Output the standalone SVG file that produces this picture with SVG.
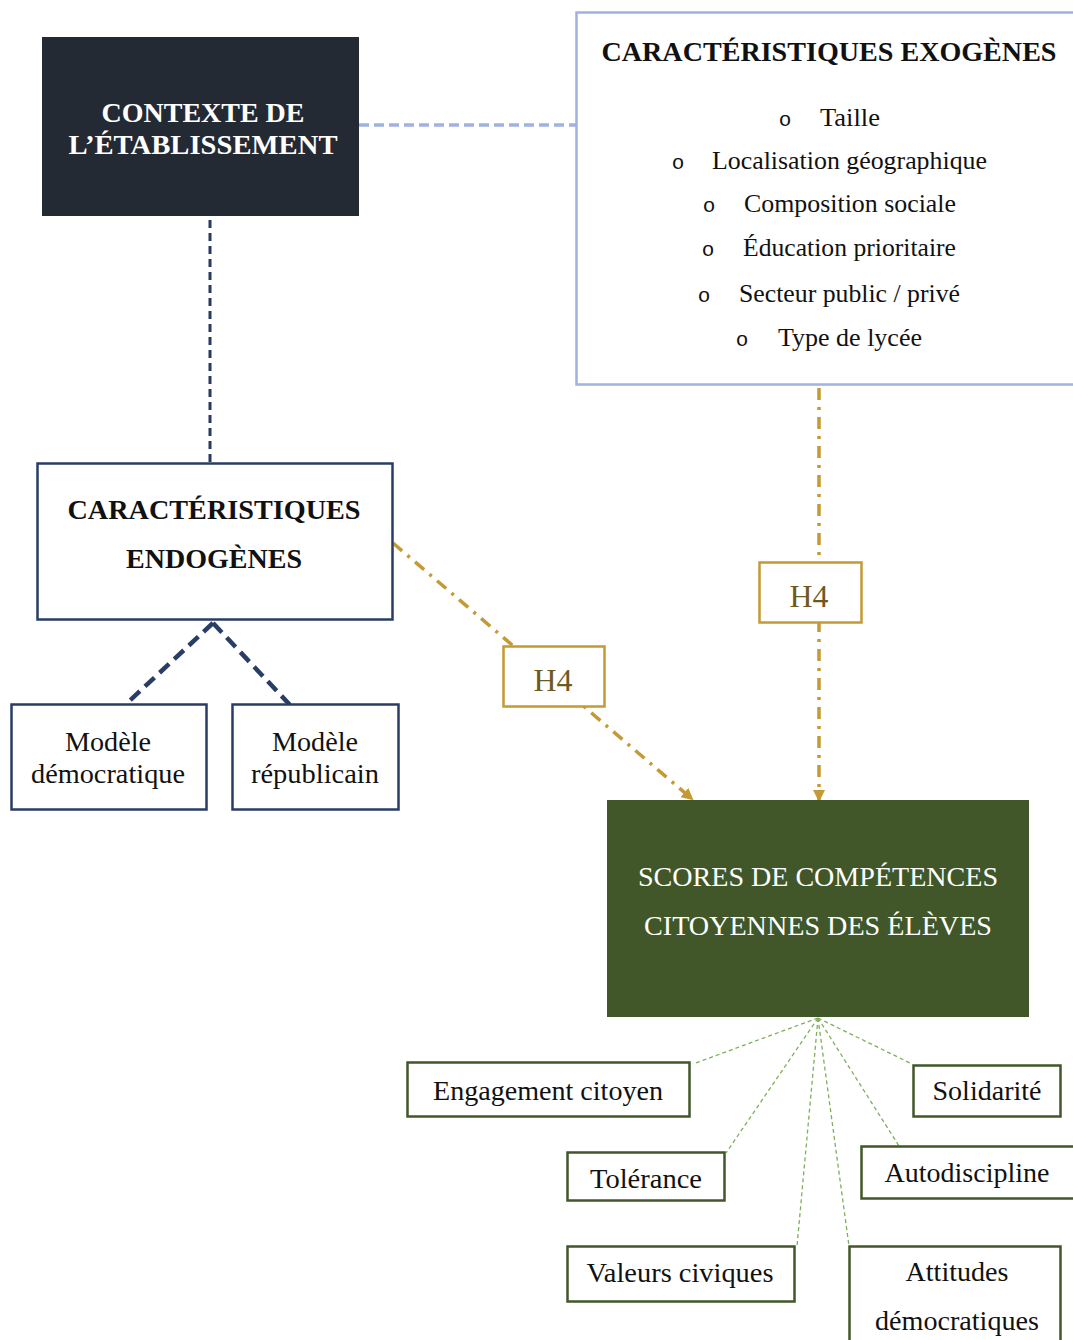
<svg xmlns="http://www.w3.org/2000/svg" width="1073" height="1340" viewBox="0 0 1073 1340">
<style>
.t{font-family:"Liberation Serif","Times New Roman",serif;text-anchor:middle}
.b{font-weight:bold}
.s{font-size:27px;fill:#111}
.lst{font-family:"Liberation Serif","Times New Roman",serif;font-size:26px;fill:#111}
.bul{font-family:"Liberation Mono","Courier New",monospace;font-size:21px;fill:#111;text-anchor:middle}
.blue{fill:#fff;stroke:#2a3d66;stroke-width:2.5}
.grn{fill:#fff;stroke:#41572a;stroke-width:2.5}
.gold{fill:#fff;stroke:#c49a35;stroke-width:2.5}
.dd{stroke:#c49a35;stroke-width:3.5;fill:none;stroke-dasharray:12 7 3 7}
.gl{stroke:#7db05a;stroke-width:1.3;fill:none;stroke-dasharray:4 3}
</style>
<defs>
<marker id="ah" markerWidth="12" markerHeight="12" refX="10" refY="6" orient="auto" markerUnits="userSpaceOnUse" viewBox="0 0 12 12">
<path d="M0,0 L12,6 L0,12 z" fill="#c49a35"/>
</marker>
</defs>
<rect width="1073" height="1340" fill="#fff"/>
<g id="connectors">
<line x1="359" y1="125" x2="576" y2="125" stroke="#9fb3e0" stroke-width="3.5" stroke-dasharray="10 5"/>
<line x1="210" y1="220" x2="210" y2="462" stroke="#283a5e" stroke-width="3" stroke-dasharray="8 5"/>
<line x1="213" y1="623" x2="125" y2="705" stroke="#2a3d66" stroke-width="4.5" stroke-dasharray="13 7"/>
<line x1="213" y1="623" x2="290" y2="705" stroke="#2a3d66" stroke-width="4.5" stroke-dasharray="13 7"/>
<line class="dd" x1="393" y1="543" x2="692" y2="799" marker-end="url(#ah)"/>
<line class="dd" x1="819" y1="388" x2="819" y2="800" marker-end="url(#ah)"/>
<line class="gl" x1="818" y1="1018" x2="693" y2="1064"/>
<line class="gl" x1="818" y1="1018" x2="726" y2="1153"/>
<line class="gl" x1="818" y1="1018" x2="797" y2="1246"/>
<line class="gl" x1="818" y1="1018" x2="849" y2="1246"/>
<line class="gl" x1="818" y1="1018" x2="899" y2="1146"/>
<line class="gl" x1="818" y1="1018" x2="912" y2="1064"/>
</g>
<g id="contexte">
<rect x="42" y="37" width="317" height="179" fill="#242a33"/>
<text class="t b" x="203" y="122" font-size="28" fill="#fff" textLength="203" lengthAdjust="spacingAndGlyphs">CONTEXTE DE</text>
<text class="t b" x="203" y="154" font-size="28" fill="#fff" textLength="269" lengthAdjust="spacingAndGlyphs">L’ÉTABLISSEMENT</text>
</g>
<g id="exogenes">
<rect x="576.5" y="12.5" width="510" height="372" fill="#fff" stroke="#9fb3e0" stroke-width="2.5"/>
<text class="t b" x="829" y="61" font-size="28" fill="#111" textLength="455" lengthAdjust="spacingAndGlyphs">CARACTÉRISTIQUES EXOGÈNES</text>
<text class="bul" x="785" y="126">o</text><text class="lst" x="820" y="126" textLength="60" lengthAdjust="spacingAndGlyphs">Taille</text>
<text class="bul" x="678" y="169">o</text><text class="lst" x="712" y="169" textLength="275" lengthAdjust="spacingAndGlyphs">Localisation géographique</text>
<text class="bul" x="709" y="212">o</text><text class="lst" x="744" y="212" textLength="212" lengthAdjust="spacingAndGlyphs">Composition sociale</text>
<text class="bul" x="708" y="256">o</text><text class="lst" x="743" y="256" textLength="213" lengthAdjust="spacingAndGlyphs">Éducation prioritaire</text>
<text class="bul" x="704" y="302">o</text><text class="lst" x="739" y="302" textLength="221" lengthAdjust="spacingAndGlyphs">Secteur public / privé</text>
<text class="bul" x="742" y="346">o</text><text class="lst" x="778" y="346" textLength="144" lengthAdjust="spacingAndGlyphs">Type de lycée</text>
</g>
<g id="endogenes">
<rect class="blue" x="37.5" y="463.5" width="355" height="156"/>
<text class="t b" x="214" y="519" font-size="28" fill="#111" textLength="293" lengthAdjust="spacingAndGlyphs">CARACTÉRISTIQUES</text>
<text class="t b" x="214" y="568" font-size="28" fill="#111" textLength="176" lengthAdjust="spacingAndGlyphs">ENDOGÈNES</text>
</g>
<g id="modele-democratique">
<rect class="blue" x="11.5" y="704.5" width="195" height="105"/>
<text class="t s" x="108" y="751" textLength="86" lengthAdjust="spacingAndGlyphs">Modèle</text>
<text class="t s" x="108" y="783" textLength="154" lengthAdjust="spacingAndGlyphs">démocratique</text>
</g>
<g id="modele-republicain">
<rect class="blue" x="232.5" y="704.5" width="166" height="105"/>
<text class="t s" x="315" y="751" textLength="86" lengthAdjust="spacingAndGlyphs">Modèle</text>
<text class="t s" x="315" y="783" textLength="128" lengthAdjust="spacingAndGlyphs">républicain</text>
</g>
<g id="h4-left">
<rect class="gold" x="503.5" y="646.5" width="101" height="60"/>
<text class="t" x="553" y="691" font-size="31" fill="#6e5a1e" textLength="39" lengthAdjust="spacingAndGlyphs">H4</text>
</g>
<g id="h4-right">
<rect class="gold" x="759.5" y="562.5" width="102" height="60"/>
<text class="t" x="809" y="607" font-size="31" fill="#6e5a1e" textLength="39" lengthAdjust="spacingAndGlyphs">H4</text>
</g>
<g id="scores">
<rect x="607" y="800" width="422" height="217" fill="#41572a"/>
<text class="t" x="818" y="886" font-size="28" fill="#fff" textLength="360" lengthAdjust="spacingAndGlyphs">SCORES DE COMPÉTENCES</text>
<text class="t" x="818" y="935" font-size="28" fill="#fff" textLength="348" lengthAdjust="spacingAndGlyphs">CITOYENNES DES ÉLÈVES</text>
</g>
<g id="engagement">
<rect class="grn" x="407.5" y="1062.5" width="282" height="54"/>
<text class="t s" x="548" y="1100" textLength="230" lengthAdjust="spacingAndGlyphs">Engagement citoyen</text>
</g>
<g id="solidarite">
<rect class="grn" x="913.5" y="1065.5" width="147" height="51"/>
<text class="t s" x="987" y="1100" textLength="109" lengthAdjust="spacingAndGlyphs">Solidarité</text>
</g>
<g id="tolerance">
<rect class="grn" x="567.5" y="1152.5" width="157" height="48"/>
<text class="t s" x="646" y="1188" textLength="112" lengthAdjust="spacingAndGlyphs">Tolérance</text>
</g>
<g id="autodiscipline">
<rect class="grn" x="861.5" y="1146.5" width="220" height="52"/>
<text class="t s" x="967" y="1182" textLength="165" lengthAdjust="spacingAndGlyphs">Autodiscipline</text>
</g>
<g id="valeurs">
<rect class="grn" x="567.5" y="1246.5" width="227" height="55"/>
<text class="t s" x="680" y="1282" textLength="187" lengthAdjust="spacingAndGlyphs">Valeurs civiques</text>
</g>
<g id="attitudes">
<rect class="grn" x="849.5" y="1246.5" width="211" height="110"/>
<text class="t s" x="957" y="1281" textLength="103" lengthAdjust="spacingAndGlyphs">Attitudes</text>
<text class="t s" x="957" y="1330" textLength="164" lengthAdjust="spacingAndGlyphs">démocratiques</text>
</g>
</svg>
